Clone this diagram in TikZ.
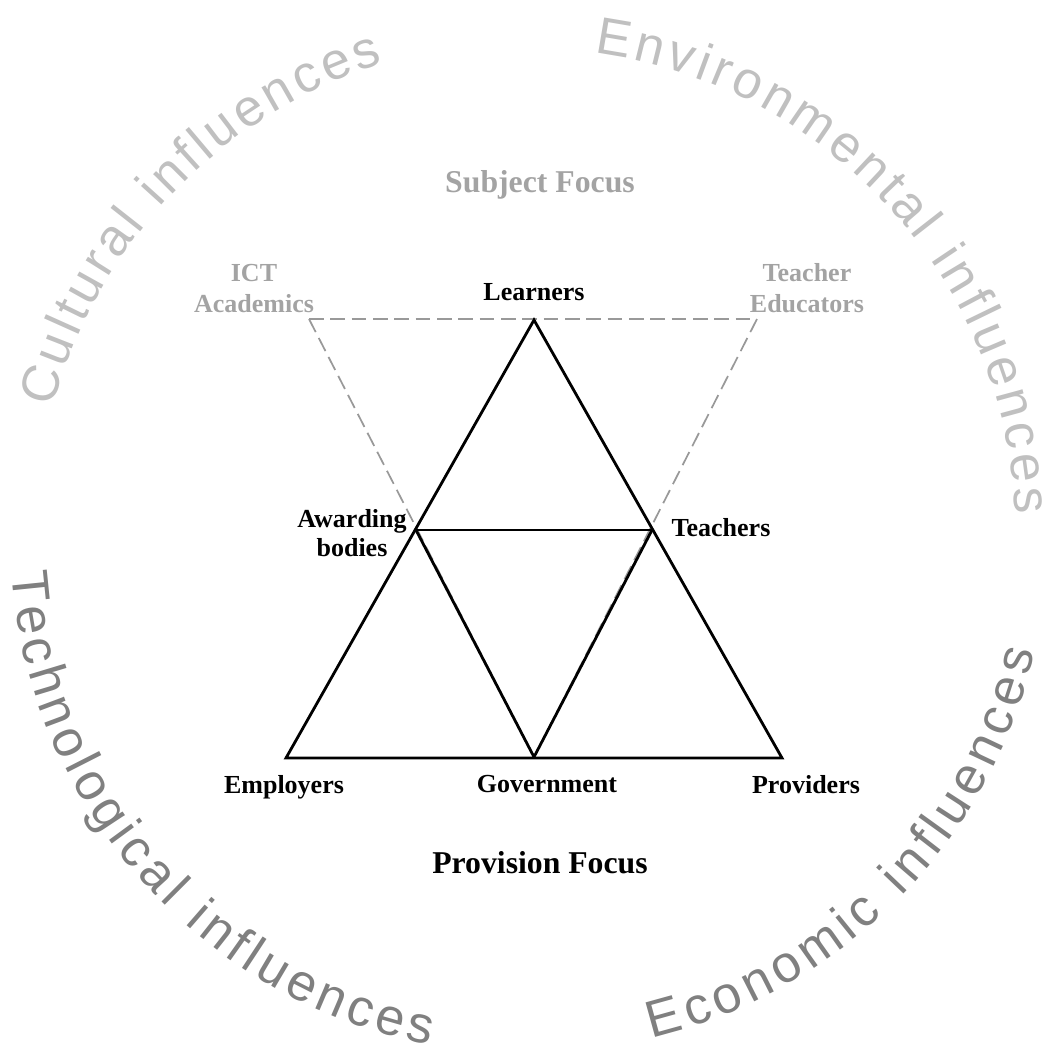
\documentclass[tikz,border=0pt]{standalone}
\usepackage{fontspec}
\setmainfont{Liberation Serif}
\newfontfamily\arialfont{Liberation Sans}
\usetikzlibrary{decorations.text}
\definecolor{lightcurve}{RGB}{192,192,192}
\definecolor{darkcurve}{RGB}{128,128,128}
\definecolor{lblgray}{RGB}{163,163,163}
\definecolor{dashgray}{RGB}{153,153,153}
\newcommand\curvefont{\arialfont\fontsize{39}{40}\selectfont}
\tikzset{
  lbl/.style={font=\bfseries\fontsize{19.5}{23}\selectfont, inner sep=0pt, align=center, anchor=base},
  lblg/.style={lbl, text=lblgray},
  focus/.style={font=\bfseries\fontsize{23.8}{26}\selectfont, inner sep=0pt, anchor=base},
  solidedge/.style={line width=2.1pt, line join=miter},
  dashedge/.style={draw=dashgray, line width=1.3pt, dash pattern=on 11pt off 5pt},
  curvetext/.style={decorate, decoration={text along path, text align=fit to path, text={|\curvefont|#1}}}
}
\begin{document}
\begin{tikzpicture}[x=0.75pt,y=0.75pt]
\useasboundingbox (0,0) rectangle (1054,-1047);
% vertices
\coordinate (L) at (534,-320);
\coordinate (E) at (286,-758);
\coordinate (P) at (782,-758);
\coordinate (A) at (416,-530);
\coordinate (T) at (652,-530);
\coordinate (G) at (534,-757);
\coordinate (I) at (309,-319);
\coordinate (TE) at (757,-319);
\coordinate (C0) at (530,-535);
% dashed subject triangle
\draw[dashedge] (I) -- (TE);
\draw[dashedge] (I) -- (G);
\draw[dashedge] (TE) -- (G);
% solid triangles
\draw[solidedge] (L) -- (E) -- (P) -- cycle;
\draw[solidedge] (A) -- (T);
\draw[solidedge] (A) -- (G);
\draw[solidedge] (T) -- (G);
% labels
\node[lbl] (learners) at (534,-300) {Learners};
\node[lblg] (ict) at (254,-312) {ICT\\Academics};
\node[lblg] (tedu) at (807,-312) {Teacher\\Educators};
\node[lbl, font=\bfseries\fontsize{19.5}{21.5}\selectfont] (awarding) at (352,-556) {Awarding\\bodies};
\node[lbl] (teachers) at (721,-536) {Teachers};
\node[lbl] (employers) at (284,-793) {Employers};
\node[lbl] (government) at (547,-792) {Government};
\node[lbl] (providers) at (806,-793) {Providers};
\node[focus, text=lblgray] (subject) at (540,-192) {Subject Focus};
\node[focus] (provision) at (540,-873) {Provision Focus};
% curved influences
\path[curvetext={Cultural influences}, decoration={text color=lightcurve}]
  (C0) ++(165.1:494) arc[start angle=165.1, end angle=107.3, radius=494];
\path[curvetext={Environmental influences}, decoration={text color=lightcurve}]
  (C0) ++(82.4:486) arc[start angle=82.4, end angle=2.5, radius=486];
\path[curvetext={Technological influences}, decoration={text color=darkcurve}]
  (C0) ++(184.1:520) arc[start angle=184.1, end angle=258.9, radius=520];
\path[curvetext={Economic influences}, decoration={text color=darkcurve}]
  (C0) ++(283.6:518) arc[start angle=283.6, end angle=347, radius=518];
\end{tikzpicture}
\end{document}
